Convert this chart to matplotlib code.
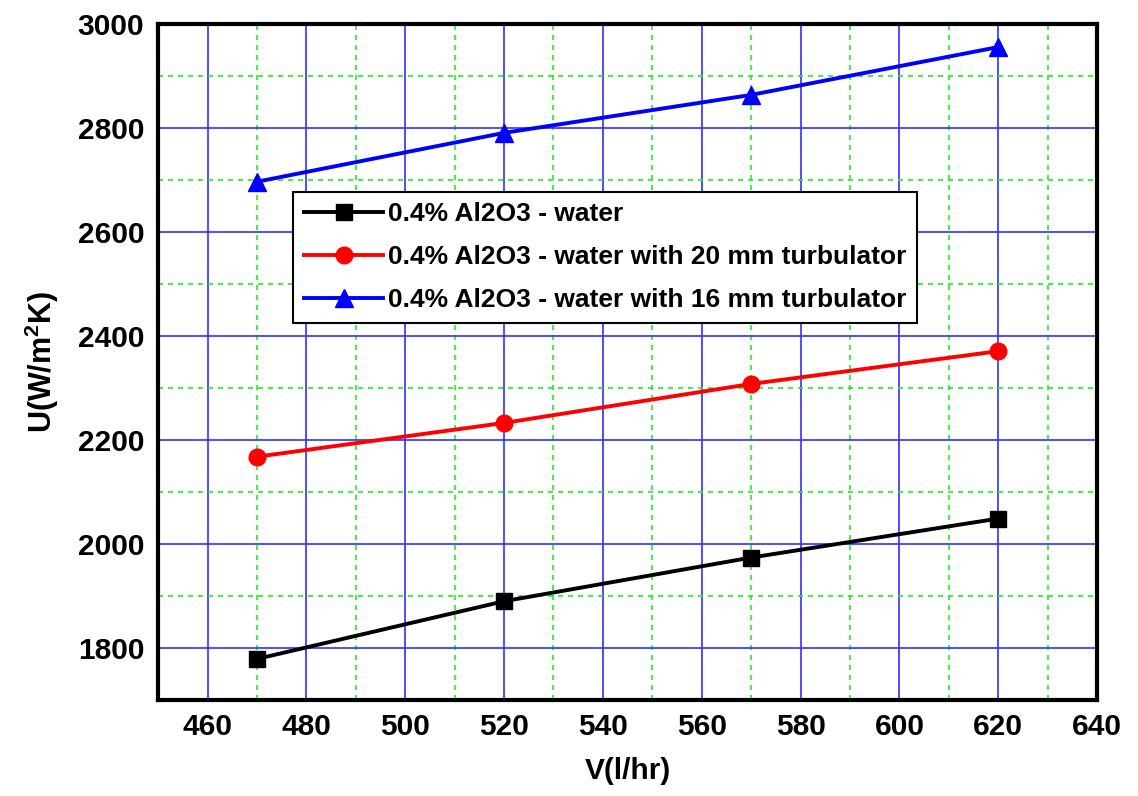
import matplotlib
matplotlib.use("Agg")
import matplotlib.pyplot as plt

plt.rcParams['font.family'] = ['Liberation Sans', 'DejaVu Sans']
plt.rcParams['font.weight'] = 'bold'
plt.rcParams['mathtext.fontset'] = 'custom'
plt.rcParams['mathtext.rm'] = 'Liberation Sans:bold'
plt.rcParams['mathtext.default'] = 'rm'

flow = [470, 520, 570, 620]
u_water = [1779, 1890, 1974, 2049]
u_20mm = [2168, 2233, 2308, 2371]
u_16mm = [2697, 2791, 2864, 2956]
labels = ["0.4% Al2O3 - water",
          "0.4% Al2O3 - water with 20 mm turbulator",
          "0.4% Al2O3 - water with 16 mm turbulator"]
xticks = [460, 480, 500, 520, 540, 560, 580, 600, 620, 640]
yticks = [1800, 2000, 2200, 2400, 2600, 2800, 3000]
xminor = [470, 490, 510, 530, 550, 570, 590, 610, 630]
yminor = [1900, 2100, 2300, 2500, 2700, 2900]

fig = plt.figure(figsize=(11.38, 7.96), dpi=100)
ax = fig.add_axes([0.139, 0.1206, 0.825, 0.849])

ax.plot(flow, u_water, color='black', marker='s', markersize=11, lw=2.8, label=labels[0], zorder=3)
ax.plot(flow, u_20mm, color='red', marker='o', markersize=12, lw=2.8, label=labels[1], zorder=3)
ax.plot(flow, u_16mm, color='blue', marker='^', markersize=13, lw=2.8, label=labels[2], zorder=3)

ax.set_xlim(450, 640)
ax.set_ylim(1700, 3000)
ax.set_xticks(xticks)
ax.set_yticks(yticks)
ax.set_xticks(xminor, minor=True)
ax.set_yticks(yminor, minor=True)
ax.grid(which='major', color='#3030ff', lw=1.2, ls='-', zorder=0)
ax.grid(which='minor', color='#22ee22', lw=1.2, ls=(0, (3, 3)), zorder=0)
ax.set_axisbelow(True)
ax.tick_params(which='both', length=0, labelsize=21.5)
ax.tick_params(axis='y', pad=10)
ax.tick_params(axis='x', pad=9)
for lab in ax.get_xticklabels() + ax.get_yticklabels():
    lab.set_fontweight('bold')
for sp in ax.spines.values():
    sp.set_linewidth(3)
    sp.set_color('black')

ax.set_xlabel("V(l/hr)", fontsize=21.5, fontweight='bold', labelpad=12)
ax.set_ylabel("U(W/m$^{2}$K)", fontsize=22, fontweight='bold', labelpad=12)

leg = ax.legend(loc='upper left', bbox_to_anchor=(0.144, 0.752), borderaxespad=0,
                fancybox=False, edgecolor='black', framealpha=1,
                prop={'size': 19, 'weight': 'bold'}, handlelength=3.0,
                handletextpad=0.2, labelspacing=0.72, borderpad=0.4)
leg.get_frame().set_linewidth(1.5)

fig.savefig("out.png", dpi=100)
